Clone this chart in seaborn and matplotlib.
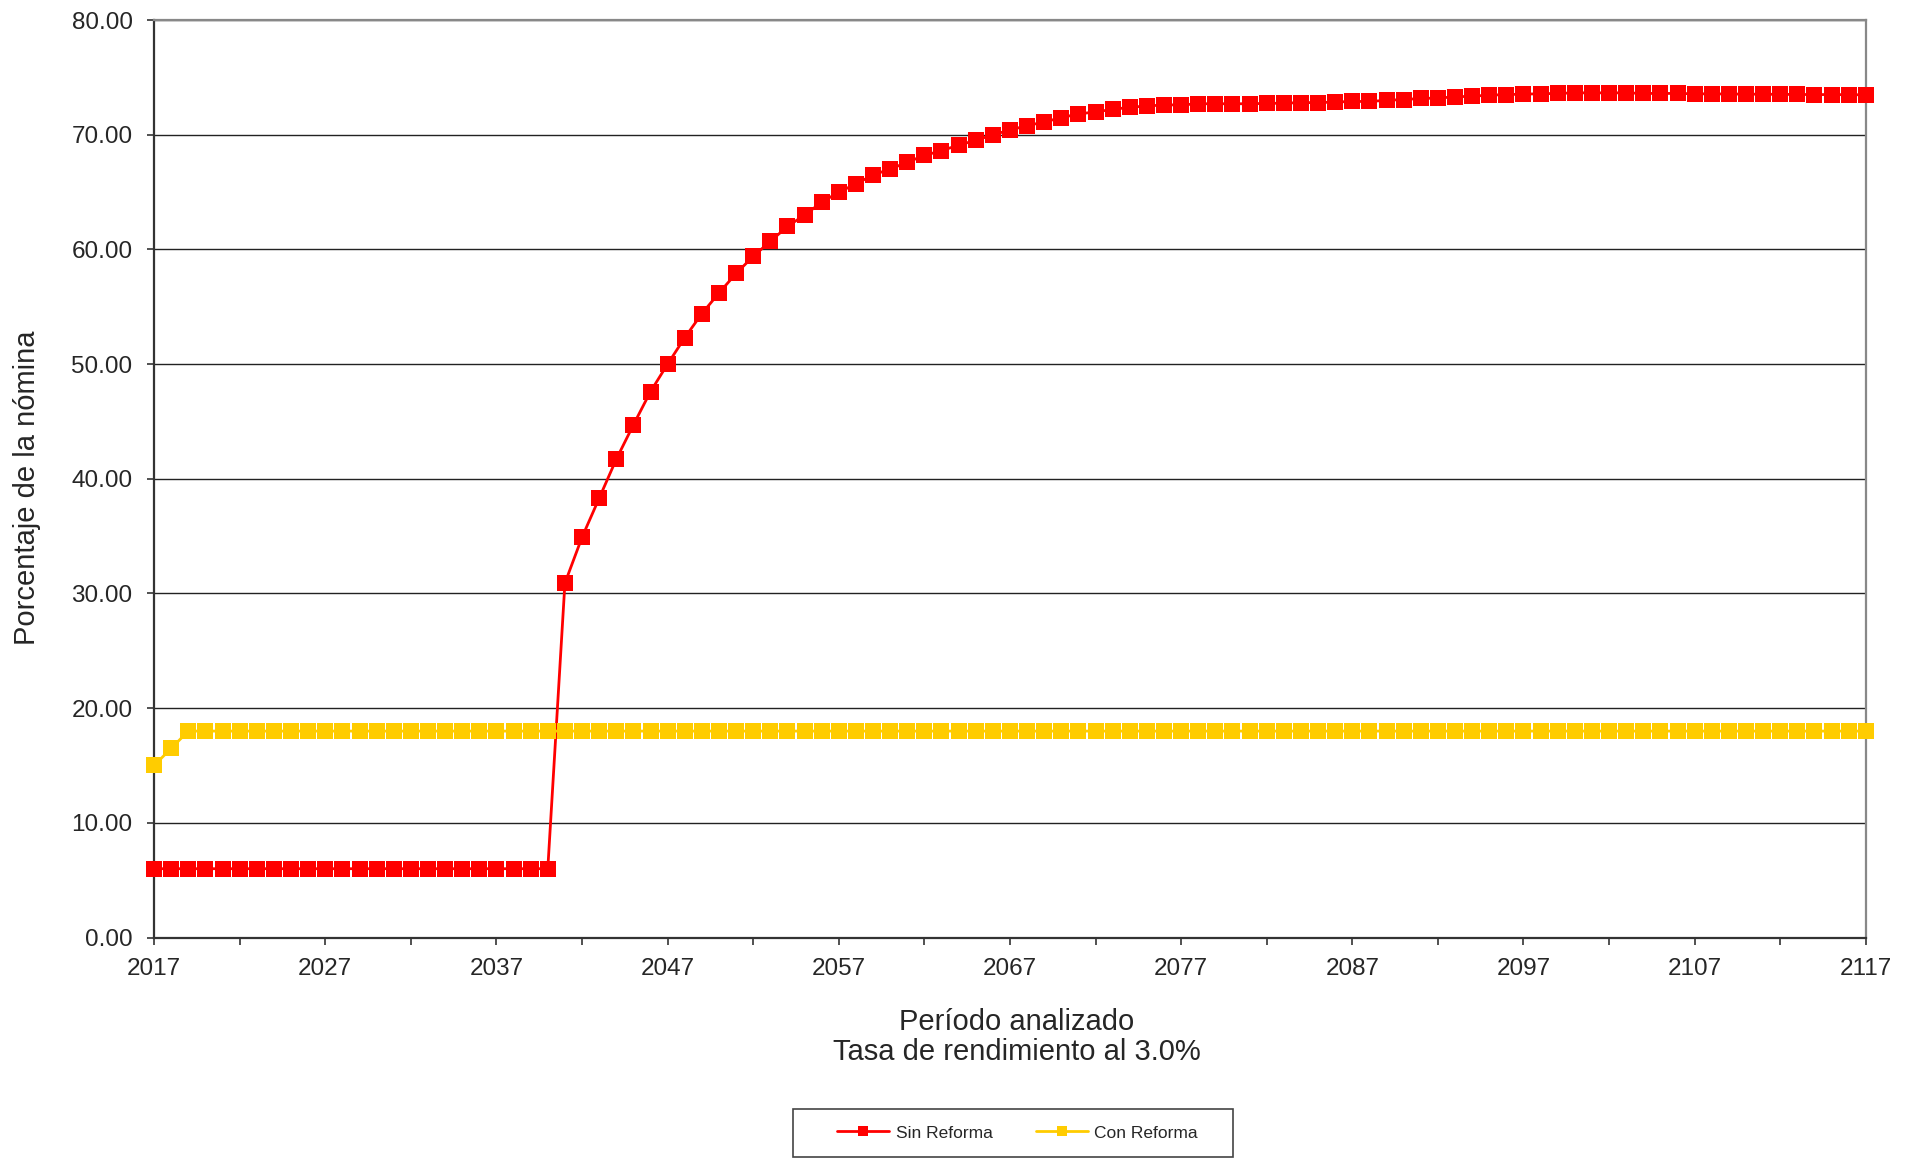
import pandas as pd
import seaborn as sns
import matplotlib.pyplot as plt
from matplotlib.patches import Rectangle
from matplotlib.ticker import FormatStrFormatter

years = list(range(2017, 2118))

sin_reforma = [
    6.0, 6.0, 6.0, 6.0, 6.0, 6.0, 6.0, 6.0, 6.0, 6.0, 6.0, 6.0,
    6.0, 6.0, 6.0, 6.0, 6.0, 6.0, 6.0, 6.0, 6.0, 6.0, 6.0, 6.0,
    30.9, 34.9, 38.3, 41.7, 44.7, 47.6, 50.0, 52.3, 54.4, 56.2,
    57.9, 59.4, 60.7, 62.0, 63.0, 64.1, 65.0, 65.7, 66.5, 67.0,
    67.6, 68.2, 68.6, 69.1, 69.5, 70.0, 70.4, 70.8, 71.1, 71.5,
    71.8, 72.0, 72.2, 72.4, 72.5, 72.6, 72.6, 72.7, 72.7, 72.7,
    72.7, 72.73, 72.75, 72.8, 72.8, 72.85, 72.9, 72.9, 73.0, 73.07,
    73.16, 73.2, 73.3, 73.36, 73.45, 73.5, 73.54, 73.57, 73.6, 73.65,
    73.65, 73.65, 73.65, 73.6, 73.6, 73.6, 73.57, 73.56, 73.55, 73.54,
    73.53, 73.52, 73.51, 73.5, 73.5, 73.49, 73.48,
]

con_reforma = [15.0, 16.5] + [
    18.0, 18.0, 18.0, 18.0, 18.0, 18.0, 18.0, 18.0, 18.0, 18.0, 18.0,
    18.0, 18.0, 18.0, 18.0, 18.0, 18.0, 18.0, 18.0, 18.0, 18.0, 18.0,
    18.0, 18.0, 18.0, 18.0, 18.0, 18.0, 18.0, 18.0, 18.0, 18.0, 18.0,
    18.0, 18.0, 18.0, 18.0, 18.0, 18.0, 18.0, 18.0, 18.0, 18.0, 18.0,
    18.0, 18.0, 18.0, 18.0, 18.0, 18.0, 18.0, 18.0, 18.0, 18.0, 18.0,
    18.0, 18.0, 18.0, 18.0, 18.0, 18.0, 18.0, 18.0, 18.0, 18.0, 18.0,
    18.0, 18.0, 18.0, 18.0, 18.0, 18.0, 18.0, 18.0, 18.0, 18.0, 18.0,
    18.0, 18.0, 18.0, 18.0, 18.0, 18.0, 18.0, 18.0, 18.0, 18.0, 18.0,
    18.0, 18.0, 18.0, 18.0, 18.0, 18.0, 18.0, 18.0, 18.0, 18.0, 18.0,
]

series_names = ["Sin Reforma", "Con Reforma"]
colors = {"Sin Reforma": "#FF0000", "Con Reforma": "#FFCC00"}

df = pd.DataFrame({
    "year": years * 2,
    "value": sin_reforma + con_reforma,
    "serie": [series_names[0]] * len(years) + [series_names[1]] * len(years),
})

sns.set_style("white")
plt.rcParams['font.family'] = ['Liberation Sans', 'DejaVu Sans']

fig = plt.figure(figsize=(19.19, 11.58), dpi=100)
ax = fig.add_axes([0.0803, 0.1904, 0.892, 0.7923])

sns.lineplot(data=df, x="year", y="value", hue="serie", hue_order=series_names,
             palette=colors, marker="s", markersize=11, markeredgewidth=0,
             linewidth=2, ax=ax, clip_on=False, zorder=3)

ax.set_xlim(2017, 2117)
ax.set_ylim(0, 80)
ax.set_xticks(range(2017, 2118, 10))
ax.set_xticks(range(2017, 2118, 5), minor=True)
ax.set_yticks(range(0, 81, 10))
ax.yaxis.set_major_formatter(FormatStrFormatter('%.2f'))

ax.grid(axis='y', color='#222222', linewidth=1.0)
ax.set_axisbelow(True)
ax.tick_params(axis='both', which='both', direction='out', length=5, width=1.2,
               color='#333333', labelsize=17.5, bottom=True, left=True)
ax.tick_params(axis='x', pad=9.5)
ax.tick_params(axis='y', pad=10.5)
for side in ['left', 'bottom']:
    ax.spines[side].set_color('#333333')
    ax.spines[side].set_linewidth(1.6)
for side in ['top', 'right']:
    ax.spines[side].set_color('#888888')
    ax.spines[side].set_linewidth(1.6)

ax.set_xlabel('Período analizado\nTasa de rendimiento al 3.0%', fontsize=21,
              linespacing=1.1)
ax.xaxis.set_label_coords(0.504, -0.0765)
ax.set_ylabel('Porcentaje de la nómina', fontsize=21)
ax.yaxis.set_label_coords(-0.066, 0.49)

ax.legend_.remove()
handles, labels = ax.get_legend_handles_labels()
fig.legend(handles, labels, loc='center', bbox_to_anchor=(0.5302, 0.0216),
           bbox_transform=fig.transFigure, ncol=2, fontsize=12.5,
           handlelength=3.0, handletextpad=0.35, columnspacing=2.5,
           frameon=False, markerscale=0.6)
fig.patches.append(Rectangle((793 / 1919, 1 / 1158), 440 / 1919, 48 / 1158,
                             transform=fig.transFigure, fill=False,
                             edgecolor='#444444', linewidth=1.2))

fig.savefig('out.png', dpi=100)
